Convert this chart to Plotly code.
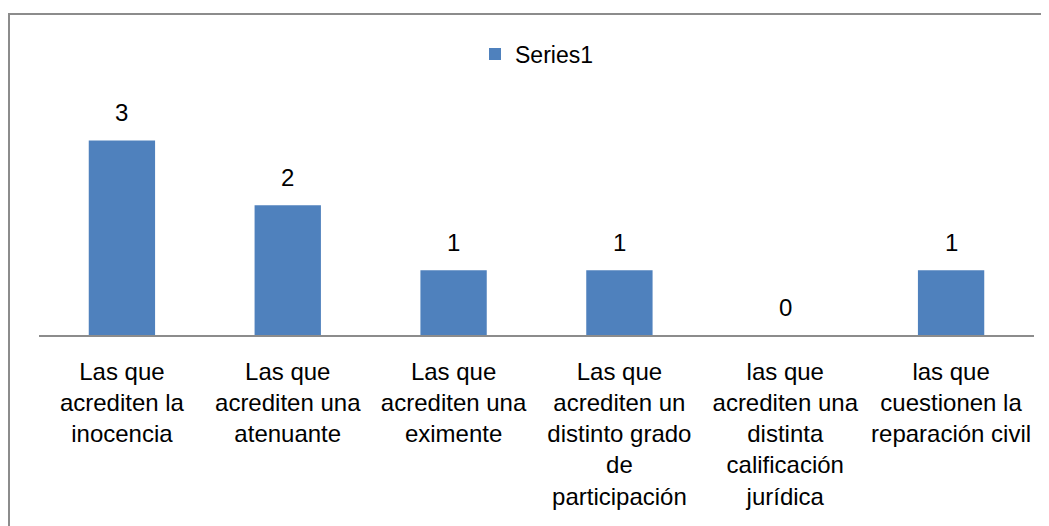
import plotly.graph_objects as go

categories = [
    "Las que<br>acrediten la<br>inocencia",
    "Las que<br>acrediten una<br>atenuante",
    "Las que<br>acrediten una<br>eximente",
    "Las que<br>acrediten un<br>distinto grado<br>de<br>participación",
    "las que<br>acrediten una<br>distinta<br>calificación<br>jurídica",
    "las que<br>cuestionen la<br>reparación civil",
]
values = [3, 2, 1, 1, 0, 1]
series_name = "Series1"

W, H = 1049, 526
OFF = 8  # page body margin
L, R, T, B = 39 - OFF, 23, 108 - OFF, 199
FONT = "Liberation Sans"

fig = go.Figure()
fig.add_trace(go.Bar(
    x=categories, y=values, name=series_name,
    marker=dict(color="#4F81BD", line=dict(width=0)),
    showlegend=True,
))

for c, v in zip(categories, values):
    fig.add_annotation(x=c, y=v, text=str(v), showarrow=False,
                       yanchor="middle", yshift=28,
                       font=dict(family=FONT, size=24, color="#000000"))

pw = W - L - R
ph = H - T - B
def px_x(p):
    return (p - OFF - L) / pw
def px_y(p):
    return (H - B - (p - OFF)) / ph

fig.add_shape(type="rect", xref="paper", yref="paper",
              x0=px_x(9), x1=px_x(1100), y0=px_y(14), y1=px_y(600),
              line=dict(color="#8C8C8C", width=2), fillcolor="rgba(0,0,0,0)",
              layer="above")

fig.update_layout(
    width=W, height=H,
    margin=dict(l=L, r=R, t=T, b=B, autoexpand=False),
    paper_bgcolor="white", plot_bgcolor="white",
    bargap=0.6,
    font=dict(family=FONT, size=24, color="#000000"),
    legend=dict(orientation="h", x=0.5, xanchor="center", xref="paper",
                y=1 - (54 - OFF) / H, yref="container", yanchor="middle",
                font=dict(family=FONT, size=23, color="#000000"),
                itemwidth=30),
    xaxis=dict(showline=True, linecolor="#8C8C8C", linewidth=2,
               ticks="", showgrid=False, tickangle=0,
               ticklabelstandoff=14,
               tickfont=dict(family=FONT, size=24, color="#000000")),
    yaxis=dict(range=[0, 3.5], visible=False, showgrid=False, zeroline=False),
)

fig.write_html("out.html")
